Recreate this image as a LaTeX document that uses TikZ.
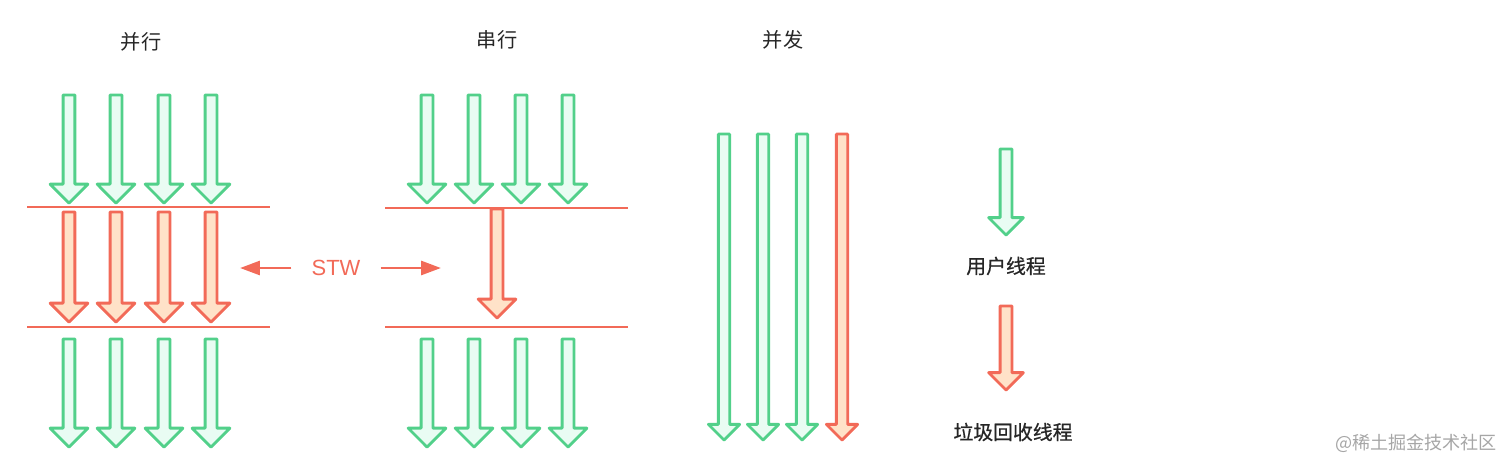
\documentclass[tikz,border=0pt]{standalone}
\usepackage{fontspec}
\setmainfont{Noto Sans CJK SC}
\newfontfamily\latinfont{Liberation Sans}
\newfontfamily\cjkmed[FakeBold=0.7]{Noto Sans CJK SC}
\usetikzlibrary{positioning, arrows.meta, shapes.arrows}
\definecolor{thGreen}{RGB}{82,208,138}
\definecolor{thGreenFill}{RGB}{233,252,243}
\definecolor{thRed}{RGB}{242,106,88}
\definecolor{thRedFill}{RGB}{255,226,200}
\definecolor{thText}{RGB}{38,38,38}

\begin{document}
\begin{tikzpicture}[x=0.02cm, y=-0.02cm,
          fat/.style={single arrow, rotate=-90, anchor=tip,
                      inner xsep=0pt, inner ysep=0.09cm,
                      single arrow head extend=0.26cm, single arrow tip angle=90,
                      line width=1.6pt, line join=round, minimum height=2.16cm},
          uarrow/.style={fat, draw=thGreen, fill=thGreenFill},
          garrow/.style={fat, draw=thRed, fill=thRedFill},
          slim/.style={inner ysep=0.085cm, single arrow head extend=0.2cm},
          barrier/.style={draw=thRed, line width=1.6pt},
          stwarr/.style={-{Triangle[length=0.4cm, width=0.28cm]}, draw=thRed, line width=1.6pt},
          title/.style={font=\fontsize{11.5}{13}\selectfont, text=thText},
          legend/.style={font=\cjkmed\fontsize{11.3}{13}\selectfont, text=thText}]
        \useasboundingbox (0,0) rectangle (1512,470);
        % titles
        \node[title] (t-par) at (141,42) {并行};
        \node[title] (t-ser) at (497,40) {串行};
        \node[title] (t-con) at (783,40) {并发};
        % parallel
        \node[uarrow] (pu1) at ( 69,205) {};
        \node[uarrow] (pu2) at (116,205) {};
        \node[uarrow] (pu3) at (164,205) {};
        \node[uarrow] (pu4) at (211,205) {};
        \draw[barrier] (27,207) -- (270,207);
        \node[garrow, minimum height=2.2cm] (pg1) at ( 69,324) {};
        \node[garrow, minimum height=2.2cm] (pg2) at (116,324) {};
        \node[garrow, minimum height=2.2cm] (pg3) at (164,324) {};
        \node[garrow, minimum height=2.2cm] (pg4) at (211,324) {};
        \draw[barrier] (27,327) -- (270,327);
        \node[uarrow] (pd1) at ( 69,449) {};
        \node[uarrow] (pd2) at (116,449) {};
        \node[uarrow] (pd3) at (164,449) {};
        \node[uarrow] (pd4) at (211,449) {};
        % stop the world
        \node[font=\latinfont\fontsize{12.5}{14}\selectfont, text=thRed,
              inner xsep=0.4cm] (stw) at (336,268) {STW};
        \coordinate (stwL) at (240,268);
        \coordinate (stwR) at (441,268);
        \draw[stwarr] (stw) -- (stwL);
        \draw[stwarr] (stw) -- (stwR);
        % serial
        \node[uarrow] (su1) at (427,205) {};
        \node[uarrow] (su2) at (474,205) {};
        \node[uarrow] (su3) at (521,205) {};
        \node[uarrow] (su4) at (568,205) {};
        \draw[barrier] (385,208) -- (628,208);
        \node[garrow, minimum height=2.18cm] (sg) at (497,320) {};
        \draw[barrier] (385,327) -- (628,327);
        \node[uarrow] (sd1) at (427,449) {};
        \node[uarrow] (sd2) at (474,449) {};
        \node[uarrow] (sd3) at (521,449) {};
        \node[uarrow] (sd4) at (568,449) {};
        % concurrent
        \node[uarrow, slim, minimum height=6.12cm] (c1) at (724,442) {};
        \node[uarrow, slim, minimum height=6.12cm] (c2) at (763,442) {};
        \node[uarrow, slim, minimum height=6.12cm] (c3) at (802,442) {};
        \node[garrow, slim, minimum height=6.12cm] (c4) at (842,442) {};
        % legend
        \node[uarrow, minimum height=1.72cm, single arrow head extend=0.23cm] (lu) at (1006,237) {};
        \node[legend] (lu-t) at (1006,266) {用户线程};
        \node[garrow, minimum height=1.68cm, single arrow head extend=0.23cm] (lg) at (1006,392) {};
        \node[legend] (lg-t) at (1013,432) {垃圾回收线程};
        \node[font=\fontsize{10.3}{12}\selectfont, text=black!35] (wm) at (1416,443) {@稀土掘金技术社区};
      \end{tikzpicture}
\end{document}
